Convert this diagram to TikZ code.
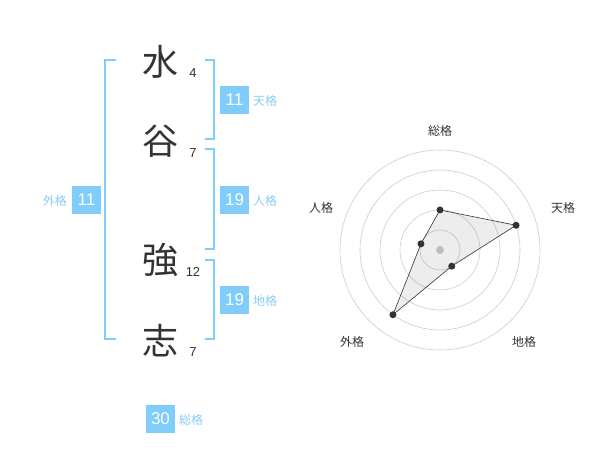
\documentclass[tikz,border=0pt]{standalone}
\usepackage{fontspec}
\setmainfont{Liberation Sans}
\newfontfamily\jpfont{Noto Sans CJK JP}
\usepackage{tikz}

\definecolor{kaku}{HTML}{80CCFA}
\definecolor{kakutext}{HTML}{86CDF5}
\definecolor{ink}{HTML}{333333}
\definecolor{ring}{HTML}{CCCCCC}

\begin{document}
\begin{tikzpicture}[x=1pt,y=-1pt]
\tikzstyle{every node}+=[inner sep=0pt]
\tikzstyle{kanji}=[font=\jpfont\fontsize{36}{36}\selectfont, text=ink]
\tikzstyle{stroke}=[font=\fontsize{13}{13}\selectfont, text=ink]
\tikzstyle{numbox}=[fill=kaku, text=white, minimum width=29, minimum height=28, font=\fontsize{17}{17}\selectfont]
\tikzstyle{kakulabel}=[font=\jpfont\fontsize{12}{12}\selectfont, text=kakutext]
\tikzstyle{bracket}=[kaku, line width=1.5]
\tikzstyle{axislabel}=[font=\jpfont\fontsize{12}{12}\selectfont, text=ink]
\tikzstyle{dot}=[circle, fill=ink, minimum size=7]
\useasboundingbox (0,0) rectangle (600,470);
% name
\node [kanji] (mizu) at (160,62) {水};
\node [kanji] (tani) at (160,141) {谷};
\node [kanji] (tsuyo) at (160,260) {強};
\node [kanji] (kokoro) at (160,341) {志};
\node [stroke] (s1) at (193,73) {4};
\node [stroke] (s2) at (193,153) {7};
\node [stroke] (s3) at (193,272) {12};
\node [stroke] (s4) at (193,352) {7};
% brackets
\draw [bracket] (116,60) -- (105,60) -- (105,339) -- (116,339);
\draw [bracket] (205,60) -- (214,60) -- (214,139) -- (205,139);
\draw [bracket] (205,149) -- (214,149) -- (214,249) -- (205,249);
\draw [bracket] (205,260) -- (214,260) -- (214,339) -- (205,339);
% scores
\node [numbox] (ten) at (234.5,100) {11};
\node [kakulabel, anchor=west] (tenlabel) at (253,101) {天格};
\node [numbox] (jin) at (234.5,200) {19};
\node [kakulabel, anchor=west] (jinlabel) at (253,201) {人格};
\node [numbox] (chi) at (234.5,300) {19};
\node [kakulabel, anchor=west] (chilabel) at (253,301) {地格};
\node [numbox] (gai) at (86.5,200) {11};
\node [kakulabel, anchor=east] (gailabel) at (67,201) {外格};
\node [numbox] (sou) at (160.5,419) {30};
\node [kakulabel, anchor=west] (soulabel) at (179,420) {総格};
% radar
\coordinate (c) at (440,250);
\foreach \r in {20,40,60,80,100}
  \draw [ring, line width=0.6] (c) circle (\r pt);
\fill [ring] (c) circle (4pt);
\path (c) ++(90:40pt) coordinate (p1);
\path (c) ++(18:80pt) coordinate (p2);
\path (c) ++(-54:20pt) coordinate (p3);
\path (c) ++(-126:80pt) coordinate (p4);
\path (c) ++(162:20pt) coordinate (p5);
\fill [black, opacity=0.07] (p1) -- (p2) -- (p3) -- (p4) -- (p5) -- cycle;
\draw [ink, line width=0.6] (p1) -- (p2) -- (p3) -- (p4) -- (p5) -- cycle;
\foreach \p in {p1,p2,p3,p4,p5}
  \node [dot] at (\p) {};
\node [axislabel] (lsou) at (440,131) {総格};
\node [axislabel] (lten) at (563,208) {天格};
\node [axislabel] (lchi) at (524,342) {地格};
\node [axislabel] (lgai) at (352,342) {外格};
\node [axislabel] (ljin) at (321,208) {人格};
\end{tikzpicture}
\end{document}
